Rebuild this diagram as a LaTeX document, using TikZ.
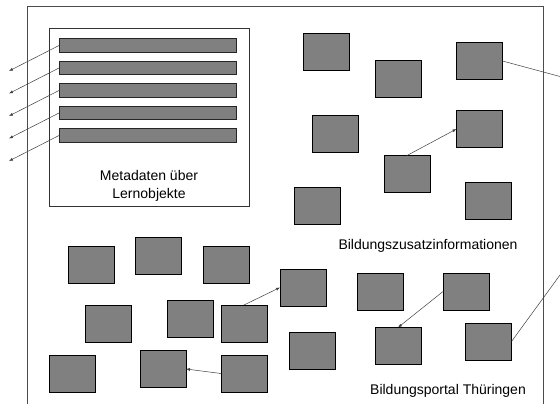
\documentclass[tikz,border=0pt]{standalone}
\usepackage{fontspec}
\setmainfont{Liberation Sans}
\usetikzlibrary{arrows.meta}
\begin{document}
\begin{tikzpicture}[x=1pt,y=-1pt,
  sq/.style={draw=black,line width=0.9pt,fill={rgb,255:red,128;green,128;blue,128},minimum width=46pt,minimum height=37pt,inner sep=0pt,outer sep=0pt},
  bar/.style={draw=black!85,line width=0.9pt,fill={rgb,255:red,128;green,128;blue,128},minimum width=177pt,minimum height=13.5pt,inner sep=0pt,outer sep=0pt},
  conn/.style={draw=black!75,line width=0.5pt},
  arr/.style={conn,-{Latex[length=4pt,width=3pt]}},
  lbl/.style={font=\fontsize{14}{17.5}\selectfont,align=center,inner sep=0pt}]
\useasboundingbox (0,0) rectangle (560,404);
\fill[white] (0,0) rectangle (560,404);
% outer frame
\draw[line width=1pt,black!70] (27,404) -- (27,7) -- (543,7) -- (543,404);
% inner box
\draw[line width=1pt,black!80] (49,29) rectangle (249,206);
\foreach \i in {1,...,5} {
  \node[bar] (bar\i) at (147.5,{45.5+22.5*(\i-1)}) {};
  \coordinate (e\i) at (9,{71+22.5*(\i-1)});
  \draw[arr] (bar\i.west) -- (e\i);
}
\node[lbl] (meta) at (149,186) {Metadaten über\\Lernobjekte};
% squares
\node[sq] (A) at (326,51.5) {};
\node[sq] (B) at (398,79) {};
\node[sq] (C) at (479.5,61) {};
\node[sq] (D) at (335,133.5) {};
\node[sq] (E) at (479.5,129) {};
\node[sq] (F) at (407,174) {};
\node[sq] (G) at (317,206) {};
\node[sq] (H) at (488.5,201) {};
\node[sq] (I) at (91,264.5) {};
\node[sq] (J) at (158,255.5) {};
\node[sq] (K) at (226,264.5) {};
\node[sq] (L) at (108.5,323.5) {};
\node[sq] (M) at (190,319) {};
\node[sq] (N) at (244,323.5) {};
\node[sq] (O) at (72.5,373.5) {};
\node[sq] (P) at (163,369) {};
\node[sq] (Q) at (244,373.5) {};
\node[sq] (R) at (303,287.5) {};
\node[sq] (S) at (380,291.5) {};
\node[sq] (T) at (466,291.5) {};
\node[sq] (U) at (312,350.5) {};
\node[sq] (V) at (398,346) {};
\node[sq] (W) at (488.5,341.5) {};
% connectors
\draw[arr] (F.north) -- (E.west);
\draw[arr] (N.north) -- (R.west);
\draw[arr] (Q.west) -- (P.east);
\draw[arr] (T.west) -- (V.north);
\coordinate (cout) at (560,76.5);
\coordinate (wout) at (560,275);
\draw[conn] (C.east) -- (cout);
\draw[conn] (W.east) -- (wout);
% labels
\node[lbl] (bzi) at (428,246) {Bildungszusatzinformationen};
\node[lbl] (bpt) at (448,391) {Bildungsportal Thüringen};
\end{tikzpicture}
\end{document}
